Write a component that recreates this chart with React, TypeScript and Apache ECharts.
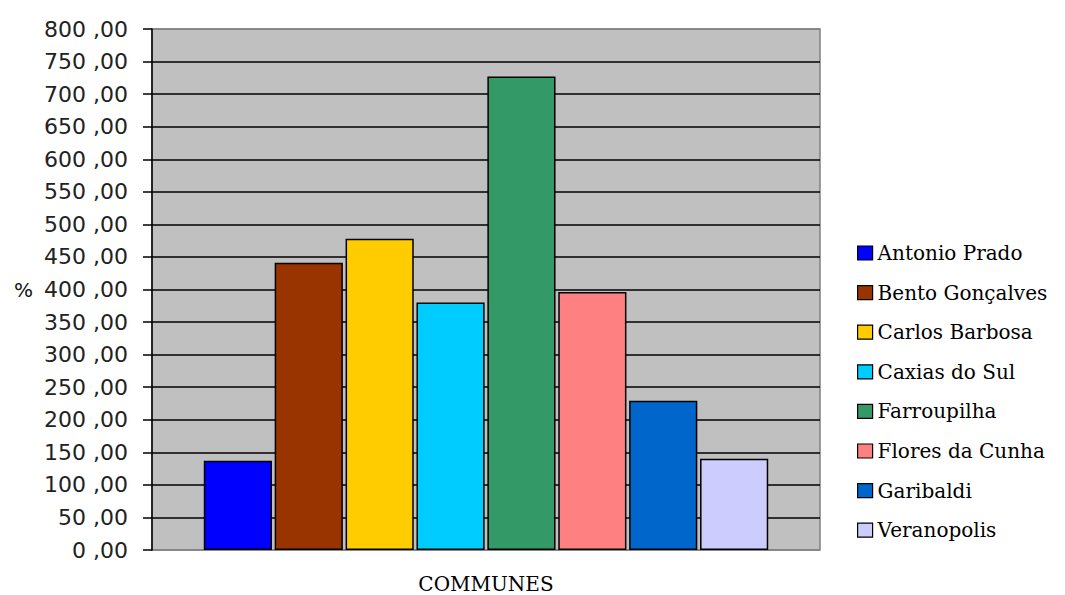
import React, { useEffect, useRef } from "react";
import * as echarts from "echarts";

const communes = [
  "Antonio Prado",
  "Bento Gonçalves",
  "Carlos Barbosa",
  "Caxias do Sul",
  "Farroupilha",
  "Flores da Cunha",
  "Garibaldi",
  "Veranopolis",
];
const values = [137, 441, 478, 380, 727, 396, 229, 140];
const colors = ["#0000FF", "#993300", "#FFCC00", "#00CCFF", "#339966", "#FF8080", "#0066CC", "#CCCCFF"];
const category = [""];

export default function App() {
  const ref = useRef<HTMLDivElement>(null);
  useEffect(() => {
    const chart = echarts.init(ref.current!, null, { renderer: "svg" });
    const splitColors: string[] = [];
    for (let i = 0; i <= 16; i++) splitColors.push(i === 0 || i === 16 ? "#808080" : "#000000");
    chart.setOption({
      animation: false,
      backgroundColor: "#ffffff",
      grid: {
        left: 152,
        right: 245,
        top: 29,
        bottom: 45,
        outerBoundsMode: "none",
        containLabel: false,
        show: true,
        backgroundColor: "#C0C0C0",
        borderColor: "#808080",
        borderWidth: 1.5,
      },
      legend: {
        orient: "vertical",
        left: 852,
        top: 238,
        itemWidth: 15,
        itemHeight: 14,
        itemGap: 19.6,
        icon: "rect",
        itemStyle: { borderColor: "#000", borderWidth: 1.2 },
        textStyle: { fontFamily: "DejaVu Serif", fontSize: 20, color: "#000" },
        data: communes,
      },
      xAxis: {
        type: "category",
        data: category,
        axisLine: { show: false },
        axisTick: { show: false },
        axisLabel: { show: false },
        name: "COMMUNES",
        nameLocation: "middle",
        nameGap: 24,
        nameTextStyle: { fontFamily: "DejaVu Serif", fontSize: 20, color: "#000" },
      },
      yAxis: {
        type: "value",
        min: 0,
        max: 800,
        interval: 50,
        name: "%",
        nameLocation: "middle",
        nameRotate: 0,
        nameGap: 119,
        nameTextStyle: { fontFamily: "DejaVu Sans", fontSize: 20, color: "#111" },
        axisLine: { show: true, lineStyle: { color: "#000", width: 1.5 } },
        axisTick: { show: true, length: 9, lineStyle: { color: "#000", width: 1.5 } },
        axisLabel: {
          fontFamily: "DejaVu Sans",
          fontSize: 22,
          color: "#222",
          margin: 24,
          formatter: (v: number) => v.toFixed(2).replace(".", " ,"),
        },
        splitLine: { show: true, lineStyle: { color: splitColors, width: 1.5 } },
      },
      series: communes.map((name, i) => ({
        name,
        type: "bar",
        data: [values[i]],
        barCategoryGap: "15.5%",
        barGap: "4%",
        itemStyle: { color: colors[i], borderColor: "#000", borderWidth: 1.5 },
      })),
    });
    return () => chart.dispose();
  }, []);
  return <div ref={ref} style={{ width: 1065, height: 595, position: "absolute", left: 0, top: 0 }} />;
}
